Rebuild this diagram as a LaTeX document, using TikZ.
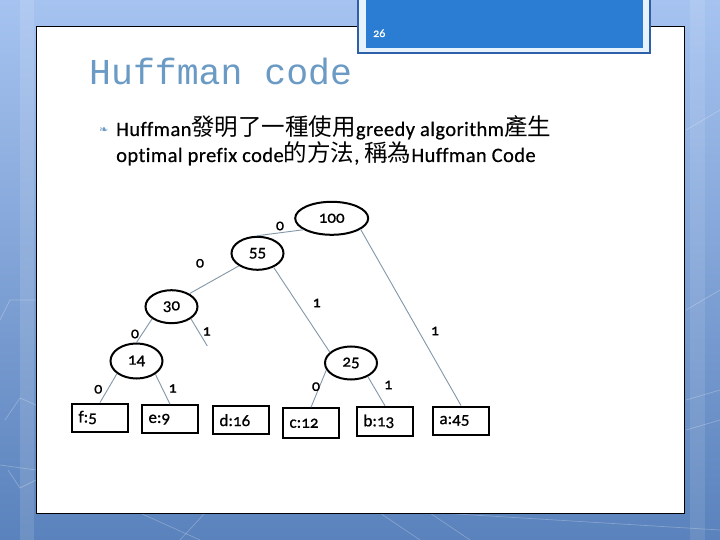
\documentclass[tikz,border=0pt]{standalone}
\usepackage{fontspec}
\setmainfont{Carlito}
\newfontfamily\cjk{Noto Sans CJK TC}
\newfontfamily\monof{Liberation Mono}
\newfontfamily\oldnum{Carlito}[Numbers=OldStyle,FakeBold=0.7]
\newfontfamily\bodyf{Carlito}[FakeBold=0.5,Ligatures=NoCommon,LetterSpace=2]
\newfontfamily\dejavu{DejaVu Sans}
\usetikzlibrary{shapes.geometric}
\definecolor{bgtop}{HTML}{A6C3F0}
\definecolor{bgbot}{HTML}{5A82BC}
\definecolor{titleblue}{HTML}{6B9BC4}
\definecolor{boxblue}{HTML}{2B7CD3}
\definecolor{boxedge}{HTML}{2F5FA8}
\definecolor{boxgap}{HTML}{E6F3FC}
\definecolor{edgegray}{HTML}{8297A8}
\newcommand\zh[1]{{\fontsize{23.5}{23.5}\selectfont\cjk #1}}
\begin{document}
\begin{tikzpicture}[x=1pt,y=-1pt,
  ell/.style={ellipse, draw=black, line width=2pt, inner sep=0pt, font=\fontsize{17}{17}\selectfont\oldnum},
  leaf/.style={rectangle, draw=black, line width=2pt, minimum width=56pt, minimum height=28pt, inner sep=0pt,
     text width=43pt, align=left, font=\fontsize{17}{17}\selectfont\oldnum},
  bit/.style={inner sep=0pt, font=\fontsize{16}{16}\selectfont\oldnum},
  tedge/.style={draw=edgegray, line width=0.9pt},
  deco/.style={draw=white, opacity=0.25, line width=0.7pt}]
\useasboundingbox (0,0) rectangle (720,540);
% background
\shade[top color=bgtop, bottom color=bgbot] (0,0) rectangle (720,540);
\fill[white, opacity=0.12] (20,0) rectangle (34,540);
\fill[white, opacity=0.10] (690,0) rectangle (705,540);
\draw[deco] (0,320) -- (10,300) -- (36,300);
\draw[deco] (5,420) -- (20,398) -- (36,405);
\draw[deco] (8,470) -- (20,488) -- (36,480);
\draw[deco] (0,465) -- (36,470);
\draw[deco] (686,130) -- (720,110);
\draw[deco] (686,310) -- (720,290);
\draw[deco] (686,400) -- (720,390);
\draw[deco] (686,430) -- (720,420);
\draw[deco] (180,540) -- (205,513);
\draw[deco] (140,513) -- (200,540);
\draw[deco] (380,513) -- (420,540);
\draw[deco] (430,513) -- (470,540);
\draw[deco] (440,513) -- (720,530);
% white panel
\draw[fill=white, draw=black, line width=0.9pt] (36,26) rectangle (684,513);
% page number box
\draw[fill=boxgap, draw=boxedge, line width=1.6pt] (358,-2) rectangle (650,53);
\fill[boxblue] (366,-2) rectangle (643,48);
\node[anchor=base west, inner sep=0pt, text=white, font=\fontsize{12}{12}\selectfont\oldnum] (pg) at (373,37) {26};
% title
\node[anchor=base west, inner sep=0pt, text=titleblue, font=\fontsize{36.5}{36.5}\selectfont\monof] (title) at (89,85) {Huffman code};
% bullet text
\node[anchor=base west, inner sep=0pt, text=titleblue, font=\fontsize{11}{11}\selectfont\dejavu] (bul) at (99,134) {❧};
\node[anchor=base west, inner sep=0pt, font=\fontsize{20.5}{20.5}\selectfont\bodyf] (l1) at (116,136) {Huffman\zh{發明了一種使用}greedy algorithm\zh{產生}};
\node[anchor=base west, inner sep=0pt, font=\fontsize{20.5}{20.5}\selectfont\bodyf] (l2) at (116,162) {optimal prefix code\zh{的方法}, \zh{稱為}Huffman Code};
% tree nodes
\node[ell, minimum width=73pt, minimum height=33pt] (n100) at (331.7,218.3) {100};
\node[ell, minimum width=52pt, minimum height=33pt] (n55) at (257.5,253.3) {55};
\node[ell, minimum width=52pt, minimum height=33pt] (n30) at (171.5,306.7) {30};
\node[ell, minimum width=52pt, minimum height=35pt] (n14) at (136.5,361) {14};
\node[ell, minimum width=52pt, minimum height=33pt] (n25) at (351,363) {25};
\node[leaf] (nf) at (100,417.5) {f:5};
\node[leaf] (ne) at (170,419.2) {e:9};
\node[leaf] (nd) at (241,420.2) {d:16};
\node[leaf, minimum height=30pt] (nc) at (311,423.3) {c:12};
\node[leaf, minimum height=29pt] (nb) at (385,421.3) {b:13};
\node[leaf] (na) at (461,420.5) {a:45};
\coordinate (dang) at (207.3,346);
% edges
\draw[tedge] (n100.202) -- (n55.93);
\draw[tedge] (n55.214) -- (n30.36);
\draw[tedge] (n55.319) -- (n25.153);
\draw[tedge] (n100.339) -- (na.north);
\draw[tedge] (n30.212) -- (n14.north);
\draw[tedge] (n30.328) -- (dang);
\draw[tedge] (n14.213) -- (nf.north);
\draw[tedge] (n14.325) -- (ne.north);
\draw[tedge] (n25.196) -- (nc.north);
\draw[tedge] (n25.321) -- (nb.north);
% bit labels
\node[bit] (b1) at (280,226) {0};
\node[bit] (b2) at (200,263.3) {0};
\node[bit] (b3) at (316.7,303) {1};
\node[bit] (b4) at (435,331) {1};
\node[bit] (b5) at (135,334) {0};
\node[bit] (b6) at (206.7,331.5) {1};
\node[bit] (b7) at (98.3,389.3) {0};
\node[bit] (b8) at (172.7,388.5) {1};
\node[bit] (b9) at (316,386.7) {0};
\node[bit] (b10) at (388.3,385) {1};
\end{tikzpicture}
\end{document}
